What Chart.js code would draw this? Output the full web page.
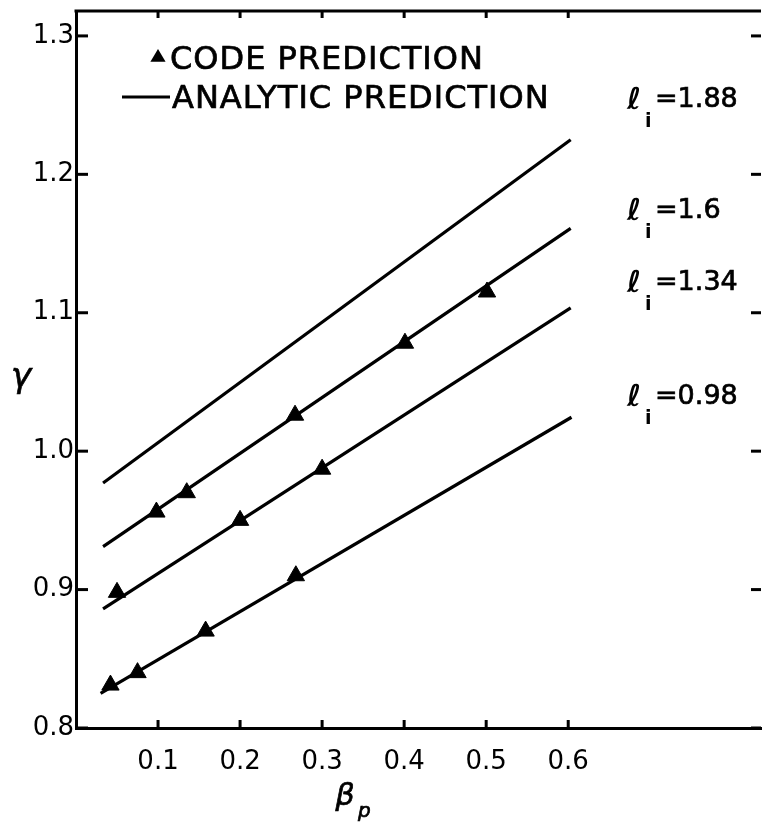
<!DOCTYPE html>
<html>
<head>
<meta charset="utf-8">
<script src="https://cdn.jsdelivr.net/npm/chart.js@4"></script>
<style>
  html, body { margin: 0; padding: 0; background: #fff; overflow: hidden; }
  #frame { width: 766px; height: 822px; overflow: hidden; position: relative; }
  #wrap { position: absolute; left: 0; top: 0; width: 772px; height: 822px; }
</style>
</head>
<body>
<div id="frame"><div id="wrap"><canvas id="c"></canvas></div></div>
<script>
// Axis ticks
const xTicks = [0.1, 0.2, 0.3, 0.4, 0.5, 0.6];
const yTicks = [0.8, 0.9, 1.0, 1.1, 1.2, 1.3];

// Analytic prediction lines (end points in beta_p, gamma)
const analyticBeta    = [0.033, 0.603];
const analytic188     = [0.977, 1.225];
const analytic160     = [0.931, 1.161];
const analytic134     = [0.886, 1.1035];
const analyticBeta098 = [0.030, 0.604];
const analytic098     = [0.825, 1.0245];

// Code prediction points
const code160Beta  = [0.098, 0.135, 0.267, 0.401, 0.501];
const code160Gamma = [0.956, 0.970, 1.026, 1.078, 1.115];
const code134Beta  = [0.050, 0.200, 0.300];
const code134Gamma = [0.898, 0.950, 0.987];
const code098Beta  = [0.042, 0.075, 0.158, 0.268];
const code098Gamma = [0.831, 0.840, 0.870, 0.910];

// Internal inductance of each curve
const liValues = ['1.88', '1.6', '1.34', '0.98'];

const pts = (xs, ys) => xs.map((x, i) => ({ x, y: ys[i] }));
const FONT = "'DejaVu Sans', sans-serif";

const lineSet = (data) => ({
  type: 'line', data, borderColor: '#000', borderWidth: 3.2,
  pointRadius: 0, fill: false, tension: 0, order: 2
});
const triSet = (data) => ({
  type: 'scatter', data, pointStyle: 'triangle', pointRadius: 10,
  backgroundColor: '#000', borderColor: '#000', borderWidth: 1, order: 1
});

// Inward tick marks, top frame, legend, curve labels and axis symbols
const decorations = {
  id: 'decorations',
  afterDraw(chart) {
    const { ctx, chartArea: a, scales: { x, y } } = chart;
    ctx.save();
    ctx.strokeStyle = '#000';
    ctx.fillStyle = '#000';
    ctx.lineWidth = 3;
    const seg = (x1, y1, x2, y2) => { ctx.beginPath(); ctx.moveTo(x1, y1); ctx.lineTo(x2, y2); ctx.stroke(); };
    const text = (s, px, py) => { ctx.fillText(s, px, py); ctx.strokeText(s, px, py); };

    seg(a.left - 1.5, a.top, a.right, a.top);
    y.ticks.forEach(t => {
      const py = y.getPixelForValue(t.value);
      seg(a.left, py, a.left + 12, py);
      seg(a.right, py, a.right - 10, py);
    });
    x.ticks.forEach(t => {
      const px = x.getPixelForValue(t.value);
      seg(px, a.bottom, px, a.bottom - 8);
      seg(px, a.top, px, a.top + 7);
    });

    // legend
    ctx.font = `32px ${FONT}`;
    ctx.letterSpacing = '1px';
    ctx.textBaseline = 'alphabetic';
    ctx.textAlign = 'left';
    const tx = 158, ty = 57, r = 8;
    ctx.beginPath();
    ctx.moveTo(tx, ty - r);
    ctx.lineTo(tx + r * 0.95, ty + r * 0.6);
    ctx.lineTo(tx - r * 0.95, ty + r * 0.6);
    ctx.closePath();
    ctx.fill();
    seg(122, 97, 170, 97);
    ctx.lineWidth = 0.7;
    text('CODE PREDICTION', 170, 69);
    text('ANALYTIC PREDICTION', 172, 108);

    // curve labels
    ctx.letterSpacing = '0px';
    const labelBase = [107, 218, 290, 404];
    liValues.forEach((v, i) => {
      const b = labelBase[i];
      ctx.font = `italic bold 30px ${FONT}`;
      ctx.fillText('\u2113', 627, b + 2);
      ctx.font = `bold 19px ${FONT}`;
      ctx.fillText('i', 645, b + 20);
      ctx.font = `27px ${FONT}`;
      text('=' + v, 655, b);
    });

    // axis symbols
    ctx.font = `italic 34px ${FONT}`;
    ctx.textAlign = 'center';
    text('\u03B3', 21, 387);
    ctx.font = `italic 30px ${FONT}`;
    text('\u03B2', 345, 805);
    ctx.font = `italic 20px ${FONT}`;
    ctx.textAlign = 'left';
    text('p', 358, 817);
    ctx.restore();
  }
};

new Chart(document.getElementById('c'), {
  data: {
    datasets: [
      triSet(pts(code160Beta, code160Gamma)),
      triSet(pts(code134Beta, code134Gamma)),
      triSet(pts(code098Beta, code098Gamma)),
      lineSet(pts(analyticBeta, analytic188)),
      lineSet(pts(analyticBeta, analytic160)),
      lineSet(pts(analyticBeta, analytic134)),
      lineSet(pts(analyticBeta098, analytic098))
    ]
  },
  options: {
    responsive: true,
    maintainAspectRatio: false,
    devicePixelRatio: 1,
    animation: false,
    layout: { padding: { left: 0, top: 0, right: 3, bottom: 0 } },
    plugins: { legend: { display: false }, tooltip: { enabled: false } },
    scales: {
      x: {
        type: 'linear', min: 0, max: 0.835,
        afterBuildTicks: s => { s.ticks = xTicks.map(v => ({ value: v })); },
        afterFit: s => { s.height = 94; },
        grid: { display: false },
        border: { display: true, color: '#000', width: 3 },
        ticks: {
          color: '#000', padding: 11, maxRotation: 0,
          font: { family: FONT, size: 26 },
          callback: v => v.toFixed(1)
        }
      },
      y: {
        type: 'linear', min: 0.8, max: 1.318,
        afterBuildTicks: s => { s.ticks = yTicks.map(v => ({ value: v })); },
        afterFit: s => { s.width = 76; },
        grid: { display: false },
        border: { display: true, color: '#000', width: 3 },
        ticks: {
          color: '#000', padding: -6,
          font: { family: FONT, size: 26 },
          callback: v => v.toFixed(1)
        }
      }
    }
  },
  plugins: [decorations]
});
</script>
</body>
</html>
